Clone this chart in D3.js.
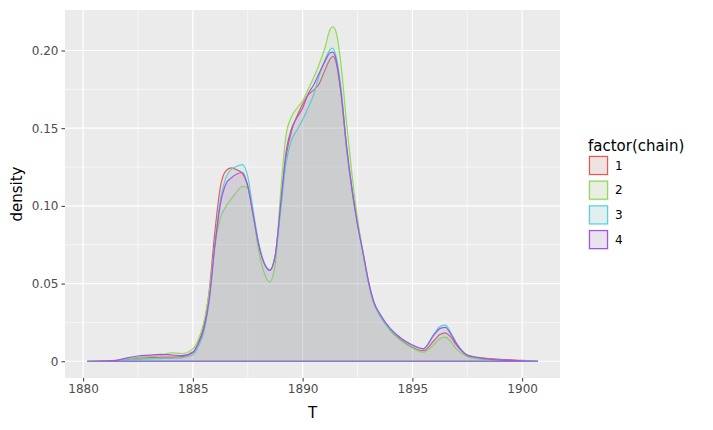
<!DOCTYPE html>
<html>
<head>
<meta charset="utf-8">
<script src="https://cdn.jsdelivr.net/npm/d3@7"></script>
<style>
  html, body { margin: 0; padding: 0; background: #ffffff; }
  svg { display: block; font-family: "DejaVu Sans", sans-serif; }
</style>
</head>
<body>
<svg id="chart" width="713" height="430"></svg>
<script>
// ---- data ----
const years = [1880.2, 1881, 1881.5, 1882, 1882.5, 1883, 1883.5, 1884, 1884.5, 1885, 1885.25, 1885.5, 1885.75,
  1886, 1886.25, 1886.5, 1886.75, 1887, 1887.25, 1887.5, 1887.75, 1888, 1888.25, 1888.5, 1888.75,
  1889, 1889.25, 1889.5, 1889.75, 1890, 1890.25, 1890.5, 1890.75, 1891, 1891.25, 1891.375, 1891.5, 1891.75,
  1892, 1892.25, 1892.5, 1892.75, 1893, 1893.25, 1893.5, 1894, 1894.5, 1895, 1895.5, 1896, 1896.25, 1896.5,
  1896.75, 1897, 1897.5, 1898, 1898.5, 1899, 1900, 1900.7];

const chain1 = [0, 0.0002, 0.0005, 0.0013, 0.0020, 0.0024, 0.0026, 0.0027, 0.0030, 0.0055, 0.012, 0.023, 0.046,
  0.083, 0.112, 0.1225, 0.1245, 0.1232, 0.121, 0.1125, 0.094, 0.075, 0.063, 0.0585, 0.068,
  0.101, 0.132, 0.1485, 0.158, 0.1655, 0.1715, 0.1745, 0.1785, 0.1868, 0.1945, 0.1963, 0.1935, 0.172,
  0.137, 0.110, 0.089, 0.070, 0.051, 0.0375, 0.030, 0.020, 0.0137, 0.0090, 0.0068, 0.0135, 0.0172, 0.0183,
  0.0155, 0.0105, 0.004, 0.0025, 0.0018, 0.0013, 0.0006, 0.0001];

const chain2 = [0, 0.0002, 0.0005, 0.0015, 0.0025, 0.0030, 0.0035, 0.0055, 0.0050, 0.0080, 0.014, 0.025, 0.045,
  0.074, 0.092, 0.0995, 0.1045, 0.109, 0.1125, 0.1115, 0.094, 0.071, 0.057, 0.051, 0.062,
  0.109, 0.146, 0.1575, 0.163, 0.1675, 0.175, 0.1825, 0.191, 0.201, 0.2135, 0.2153, 0.213, 0.191,
  0.1535, 0.120, 0.092, 0.070, 0.051, 0.037, 0.030, 0.0195, 0.013, 0.0085, 0.0058, 0.0110, 0.0145, 0.0155,
  0.0125, 0.0080, 0.0030, 0.0015, 0.0009, 0.0005, 0.0002, 0];

const chain3 = [0, 0.0001, 0.0003, 0.0008, 0.0012, 0.0015, 0.0017, 0.0019, 0.0022, 0.0040, 0.0095, 0.019, 0.040,
  0.075, 0.104, 0.118, 0.1235, 0.1255, 0.1265, 0.119, 0.097, 0.076, 0.0635, 0.059, 0.067,
  0.097, 0.128, 0.1425, 0.149, 0.1555, 0.163, 0.1715, 0.1835, 0.1935, 0.2005, 0.2015, 0.1975, 0.176,
  0.1385, 0.111, 0.089, 0.070, 0.051, 0.0375, 0.030, 0.0205, 0.0145, 0.0102, 0.0082, 0.0180, 0.0223, 0.0232,
  0.0185, 0.0120, 0.0040, 0.0022, 0.0012, 0.0008, 0.0002, 0];

const chain4 = [0, 0.0002, 0.0006, 0.0022, 0.0034, 0.0039, 0.0045, 0.0041, 0.0036, 0.0060, 0.0115, 0.021, 0.040,
  0.074, 0.101, 0.114, 0.118, 0.1205, 0.1215, 0.113, 0.094, 0.075, 0.063, 0.0585, 0.068,
  0.101, 0.135, 0.150, 0.157, 0.163, 0.172, 0.1778, 0.1853, 0.1925, 0.1985, 0.199, 0.1955, 0.173,
  0.139, 0.111, 0.088, 0.070, 0.0515, 0.038, 0.031, 0.021, 0.0147, 0.0105, 0.0080, 0.0173, 0.021, 0.0218,
  0.0175, 0.0115, 0.0038, 0.0023, 0.0013, 0.0009, 0.0003, 0];

const chainNames = ["1", "2", "3", "4"];
const chainColors = ["#DB5F57", "#91DB57", "#57D3DB", "#A157DB"];
const xTicks = [1880, 1885, 1890, 1895, 1900];
const xMinor = [1882.5, 1887.5, 1892.5, 1897.5];
const yTicks = [0, 0.05, 0.10, 0.15, 0.20];
const yTickLabels = ["0", "0.05", "0.10", "0.15", "0.20"];
const yMinor = [0.025, 0.075, 0.125, 0.175];

// ---- layout ----
const svg = d3.select("#chart");
const panel = { left: 65, right: 560, top: 10, bottom: 378 };

const allSeries = [chain1, chain2, chain3, chain4];
const xExt = d3.extent(years);
const yMax = d3.max(allSeries, s => d3.max(s));
const xPad = (xExt[1] - xExt[0]) * 0.05;
const yPad = yMax * 0.05;

const x = d3.scaleLinear().domain([xExt[0] - xPad, xExt[1] + xPad]).range([panel.left, panel.right]);
const y = d3.scaleLinear().domain([-yPad, yMax + yPad]).range([panel.bottom, panel.top]);

// panel background
svg.append("rect")
  .attr("x", panel.left).attr("y", panel.top)
  .attr("width", panel.right - panel.left).attr("height", panel.bottom - panel.top)
  .attr("fill", "#EBEBEB");

const grid = svg.append("g");
// minor grid
grid.selectAll(".ymin").data(yMinor).enter().append("line")
  .attr("x1", panel.left).attr("x2", panel.right)
  .attr("y1", d => y(d)).attr("y2", d => y(d))
  .attr("stroke", "#ffffff").attr("stroke-width", 0.6);
grid.selectAll(".xmin").data(xMinor).enter().append("line")
  .attr("y1", panel.top).attr("y2", panel.bottom)
  .attr("x1", d => x(d)).attr("x2", d => x(d))
  .attr("stroke", "#ffffff").attr("stroke-width", 0.6);
// major grid
grid.selectAll(".ymaj").data(yTicks).enter().append("line")
  .attr("x1", panel.left).attr("x2", panel.right)
  .attr("y1", d => y(d)).attr("y2", d => y(d))
  .attr("stroke", "#ffffff").attr("stroke-width", 1.2);
grid.selectAll(".xmaj").data(xTicks).enter().append("line")
  .attr("y1", panel.top).attr("y2", panel.bottom)
  .attr("x1", d => x(d)).attr("x2", d => x(d))
  .attr("stroke", "#ffffff").attr("stroke-width", 1.2);

// density areas
const area = d3.area()
  .x(d => x(d[0]))
  .y0(y(0))
  .y1(d => y(d[1]))
  .curve(d3.curveMonotoneX);

allSeries.forEach((s, i) => {
  const pts = years.map((t, j) => [t, s[j]]);
  svg.append("path")
    .attr("d", area(pts))
    .attr("fill", chainColors[i])
    .attr("fill-opacity", 0.1)
    .attr("stroke", chainColors[i])
    .attr("stroke-width", 1.2)
    .attr("stroke-linejoin", "round");
});

// axes
const xAxis = d3.axisBottom(x).tickValues(xTicks).tickFormat(d3.format("d")).tickSize(3.5).tickPadding(3);
const gx = svg.append("g").attr("transform", `translate(0,${panel.bottom})`).call(xAxis);
gx.select(".domain").remove();
gx.selectAll(".tick line").attr("stroke", "#333333").attr("stroke-width", 1);
gx.selectAll(".tick text").attr("fill", "#4D4D4D").attr("font-size", "12px")
  .attr("font-family", "DejaVu Sans, sans-serif");

const yAxis = d3.axisLeft(y).tickValues(yTicks).tickFormat((d, i) => yTickLabels[i]).tickSize(3.5).tickPadding(3);
const gy = svg.append("g").attr("transform", `translate(${panel.left},0)`).call(yAxis);
gy.select(".domain").remove();
gy.selectAll(".tick line").attr("stroke", "#333333").attr("stroke-width", 1);
gy.selectAll(".tick text").attr("fill", "#4D4D4D").attr("font-size", "12px")
  .attr("font-family", "DejaVu Sans, sans-serif");

// axis titles
svg.append("text")
  .attr("x", (panel.left + panel.right) / 2).attr("y", 418)
  .attr("text-anchor", "middle").attr("font-size", "15px").attr("fill", "#000")
  .text("T");
svg.append("text")
  .attr("transform", `translate(22,${(panel.top + panel.bottom) / 2}) rotate(-90)`)
  .attr("text-anchor", "middle").attr("font-size", "15px").attr("fill", "#000")
  .text("density");

// legend
const lg = svg.append("g");
lg.append("text").attr("x", 588).attr("y", 151).attr("font-size", "15px").attr("fill", "#000")
  .text("factor(chain)");
chainNames.forEach((n, i) => {
  const ky = 155 + i * 24.7;
  lg.append("rect").attr("x", 588).attr("y", ky).attr("width", 21).attr("height", 21)
    .attr("fill", "#F2F2F2");
  lg.append("rect").attr("x", 589.5).attr("y", ky + 1.5).attr("width", 18).attr("height", 18)
    .attr("fill", chainColors[i]).attr("fill-opacity", 0.1)
    .attr("stroke", chainColors[i]).attr("stroke-width", 1.2);
  lg.append("text").attr("x", 615).attr("y", ky + 10.5).attr("dy", "0.35em")
    .attr("font-size", "12px").attr("fill", "#000").text(n);
});
</script>
</body>
</html>
